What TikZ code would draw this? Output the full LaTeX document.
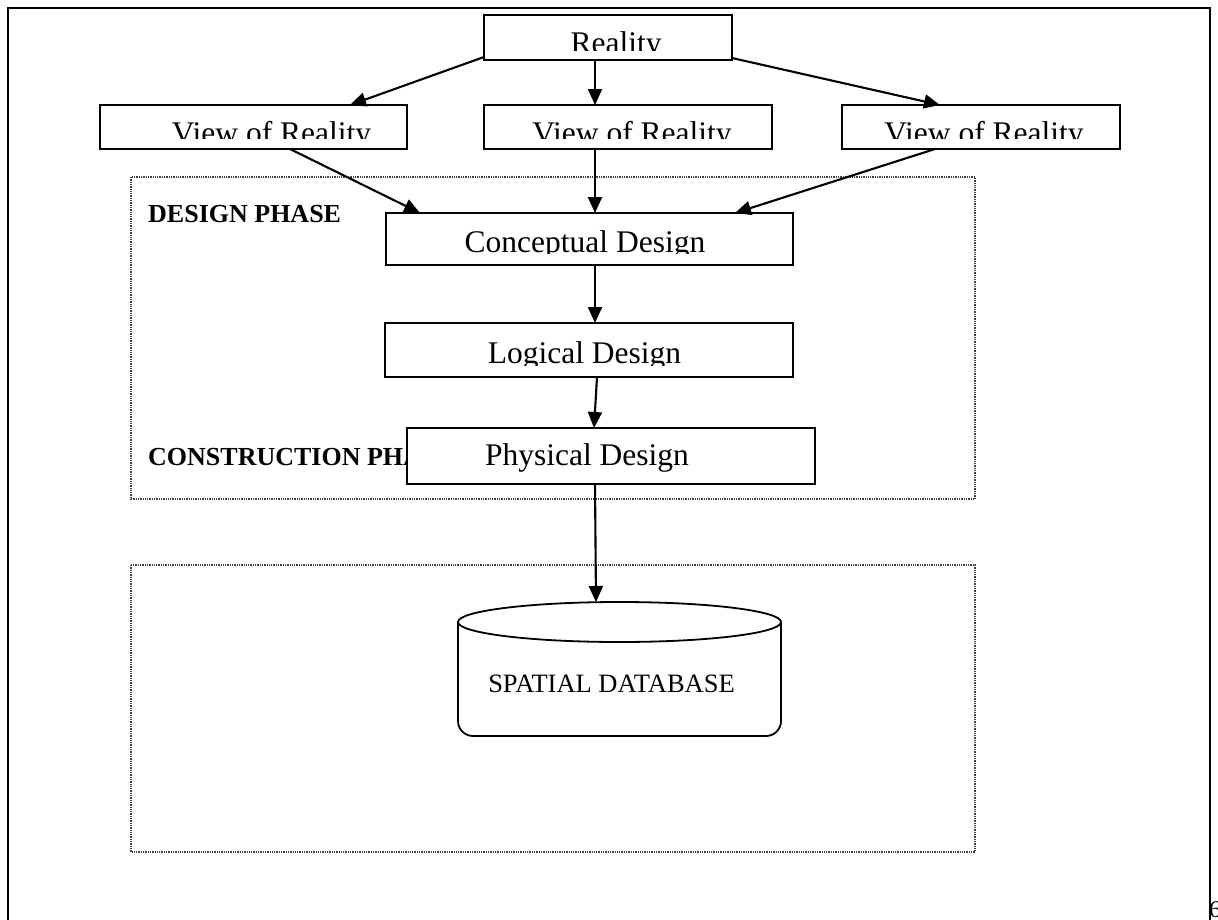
\documentclass[tikz,border=0pt]{standalone}
\usepackage{fontspec}
\setmainfont{Liberation Serif}
\usetikzlibrary{arrows.meta,calc}
\newcommand\boxlabel[5]{%
  \begin{scope}
    \clip (#1.north west) rectangle ([yshift=#4pt]#1.south east);
    \node[lbl] (#1-t) at ([xshift=#2pt,yshift=#3pt]#1.south) {#5};
  \end{scope}}
\begin{document}
\begin{tikzpicture}[x=1pt,y=-1pt,
  box/.style={draw,line width=1.9pt,fill=white,inner sep=0pt,outer sep=0pt,anchor=north west},
  arr/.style={line width=2.1pt,-{Triangle[length=16pt,width=14pt]}},
  phase/.style={draw=black!75,line width=1.3pt,densely dotted},
  lbl/.style={font=\fontsize{31.5}{36}\selectfont,inner sep=0pt,anchor=base},
  phasetxt/.style={font=\fontsize{26}{30}\selectfont\bfseries,inner sep=0pt,anchor=base west},
  frame/.style={line width=2.2pt}
]
\useasboundingbox (0,0) rectangle (1218,919);
\clip (0,0) rectangle (1218,919);

% outer frame (open at the bottom)
\draw[frame] (8,925) -- (8,8) -- (1210,8) -- (1210,925);
\node[font=\fontsize{24}{28}\selectfont,inner sep=0pt,anchor=base west] (pg) at (1209,917) {6};

% phase areas
\draw[phase] (131,177) rectangle (975,499);
\draw[phase] (131,565) rectangle (975,852);
\node[phasetxt] (dp) at (148,222) {DESIGN PHASE};
\node[phasetxt] (cp) at (148,465) {CONSTRUCTION PHASE};

% boxes
\node[box,minimum width=248pt,minimum height=45pt] (R) at (484,15) {};
\node[box,minimum width=307pt,minimum height=44pt] (V1) at (100,105) {};
\node[box,minimum width=288pt,minimum height=44pt] (V2) at (484,105) {};
\node[box,minimum width=278pt,minimum height=44pt] (V3) at (842,105) {};
\node[box,minimum width=407pt,minimum height=52pt] (C) at (386,213) {};
\node[box,minimum width=408pt,minimum height=54pt] (L) at (385,323) {};
\node[box,minimum width=408pt,minimum height=56pt] (P) at (407,428) {};

\boxlabel{R}{8}{7}{10}{Reality}
\boxlabel{V1}{18}{6}{11}{View of Reality}
\boxlabel{V2}{4}{6}{11}{View of Reality}
\boxlabel{V3}{3}{6}{11}{View of Reality}
\boxlabel{C}{-4.5}{13}{12}{Conceptual Design}
\boxlabel{L}{-4.5}{14}{12}{Logical Design}
\boxlabel{P}{-24}{19}{12}{Physical Design}

% database
\node[inner sep=0pt,outer sep=0pt,minimum width=323pt,minimum height=134pt,anchor=north west] (DB) at (458,602) {};
\draw[line width=1.8pt,rounded corners=15pt] ([yshift=-20pt]DB.north west) -- (DB.south west) -- (DB.south east) -- ([yshift=-20pt]DB.north east);
\draw[line width=1.8pt] ([yshift=-20pt]DB.north) ellipse [x radius=161.5pt, y radius=20pt];
\node[font=\fontsize{26.5}{30}\selectfont,inner sep=0pt,anchor=base] (DBt) at (611.5,692) {SPATIAL DATABASE};

% connectors
\draw[arr] ([yshift=3pt]R.south west) -- ([xshift=-57pt]V1.north east);
\draw[arr] ([xshift=-13pt]R.south) -- ([xshift=-33pt]V2.north);
\draw[arr] ([yshift=2pt]R.south east) -- ([xshift=-41pt]V3.north);
\draw[arr] ([xshift=36.5pt]V1.south) -- ([xshift=-169.5pt]C.north);
\draw[arr] ([xshift=-33pt]V2.south) -- ([xshift=5.5pt]C.north);
\draw[arr] ([xshift=-46pt]V3.south) -- ([xshift=145.5pt]C.north);
\draw[arr] ([xshift=5.5pt]C.south) -- ([xshift=6pt]L.north);
\draw[arr] ([xshift=8pt]L.south) -- ([xshift=-17pt]P.north);
\draw[arr] ([xshift=-16pt]P.south) -- ([xshift=-23.5pt]DB.north);
\end{tikzpicture}
\end{document}
